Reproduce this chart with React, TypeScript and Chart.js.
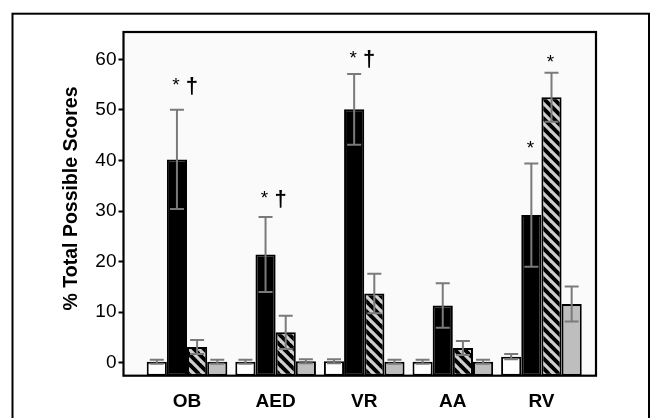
import { useEffect, useRef } from "react";
import { Chart, registerables } from "chart.js";

Chart.register(...registerables);

const categories = ["OB", "AED", "VR", "AA", "RV"];
const categoryPositions = [1, 2, 3, 4, 5];
const seriesNames = ["White", "Black", "Hatched", "Gray"];

const whiteValues = [0.2, 0.2, 0.3, 0.2, 1.2];
const whiteErrors = [0.4, 0.4, 0.4, 0.4, 0.5];
const blackValues = [40.2, 21.4, 50.1, 11.3, 29.2];
const blackErrors = [9.8, 7.4, 7.0, 4.4, 10.2];
const hatchValues = [3.1, 6.0, 13.7, 2.9, 52.5];
const hatchErrors = [1.4, 3.3, 3.9, 1.4, 4.85];
const grayValues = [0.2, 0.3, 0.2, 0.2, 11.6];
const grayErrors = [0.4, 0.4, 0.4, 0.4, 3.45];

const yTicks = [0, 10, 20, 30, 40, 50, 60];
const Y_MIN = -2.57;
const Y_MAX = 65.4;
const X_MIN = 0.283;
const X_MAX = 5.616;

// significance marks: category index, series index, baseline value, dagger shown
const markCats = [0, 1, 2, 4, 4];
const markSeries = [1, 1, 1, 1, 2];
const markValues = [53.7, 31.3, 59.1, 41.3, 58.2];
const markDagger = [true, true, true, false, false];

const FONT = "'Liberation Sans', Arial, Helvetica, sans-serif";

function makeHatch(): CanvasPattern | string {
  const size = 10;
  const c = document.createElement("canvas");
  c.width = size;
  c.height = size;
  const g = c.getContext("2d");
  if (!g) return "#000";
  g.fillStyle = "#000";
  g.fillRect(0, 0, size, size);
  g.strokeStyle = "#cfcfcf";
  g.lineWidth = 3.2;
  g.lineCap = "square";
  for (const dx of [-size, 0, size]) {
    g.beginPath();
    g.moveTo(dx, 0);
    g.lineTo(dx + size, size);
    g.stroke();
  }
  const p = g.createPattern(c, "repeat");
  return p || "#000";
}

export default function App() {
  const ref = useRef<HTMLCanvasElement | null>(null);

  useEffect(() => {
    if (!ref.current) return;
    const hatch = makeHatch();
    const values = [whiteValues, blackValues, hatchValues, grayValues];
    const errors = [whiteErrors, blackErrors, hatchErrors, grayErrors];
    const fills: (string | CanvasPattern)[] = ["#ffffff", "#000000", hatch, "#bebebe"];

    const framePlugin = {
      id: "frames",
      beforeDatasetsDraw(chart: any) {
        const { ctx, chartArea } = chart;
        ctx.save();
        ctx.fillStyle = "#fafafa";
        ctx.fillRect(chartArea.left, chartArea.top, chartArea.right - chartArea.left, chartArea.bottom - chartArea.top);
        ctx.restore();
      },
      afterDatasetsDraw(chart: any) {
        const { ctx, scales } = chart;
        const ys = scales.y;
        // error bars
        ctx.save();
        ctx.strokeStyle = "#7a7a7a";
        ctx.lineWidth = 2;
        values.forEach((vals, di) => {
          const meta = chart.getDatasetMeta(di);
          meta.data.forEach((el: any, j: number) => {
            const v = vals[j];
            const e = errors[di][j];
            const x = el.x;
            const yt = ys.getPixelForValue(v + e);
            const yb = ys.getPixelForValue(v - e);
            const cw = 7;
            ctx.beginPath();
            ctx.moveTo(x, yt);
            ctx.lineTo(x, yb);
            ctx.moveTo(x - cw, yt);
            ctx.lineTo(x + cw, yt);
            ctx.moveTo(x - cw, yb);
            ctx.lineTo(x + cw, yb);
            ctx.stroke();
          });
        });
        ctx.restore();
        // significance marks
        ctx.save();
        ctx.fillStyle = "#000";
        ctx.textBaseline = "alphabetic";
        ctx.textAlign = "center";
        markCats.forEach((c, k) => {
          const el = chart.getDatasetMeta(markSeries[k]).data[c];
          const x = el.x;
          const y = ys.getPixelForValue(markValues[k]);
          ctx.font = `19px ${FONT}`;
          ctx.fillText("*", x - 1, y);
          if (markDagger[k]) {
            ctx.font = `bold 22px ${FONT}`;
            ctx.fillText("\u2020", x + 15, y + 2);
          }
        });
        ctx.restore();
      },
      afterDraw(chart: any) {
        const { ctx, chartArea } = chart;
        ctx.save();
        ctx.strokeStyle = "#000";
        ctx.lineWidth = 2.2;
        ctx.strokeRect(chartArea.left, chartArea.top, chartArea.right - chartArea.left, chartArea.bottom - chartArea.top);
        ctx.lineWidth = 2;
        ctx.strokeRect(12.5, 13.7, 636.5, 430);
        ctx.restore();
      },
    };

    const chart = new Chart(ref.current, {
      type: "bar",
      data: {
        datasets: values.map((vals, di) => ({
          label: seriesNames[di],
          data: vals.map((v, j) => ({ x: categoryPositions[j], y: v })),
          backgroundColor: fills[di] as any,
          borderColor: "#000",
          borderWidth: 2,
          borderSkipped: false,
          base: Y_MIN,
          categoryPercentage: 0.91,
          barPercentage: 1.0,
        })),
      },
      options: {
        animation: false,
        responsive: true,
        maintainAspectRatio: false,
        layout: { padding: { left: 0, top: 32, right: 58, bottom: 0 } },
        plugins: {
          legend: { display: false },
          tooltip: { enabled: false },
          title: { display: false },
        },
        scales: {
          x: {
            type: "linear",
            min: X_MIN,
            max: X_MAX,
            offset: false,
            grid: { display: false },
            border: { display: false },
            afterBuildTicks: (axis: any) => {
              axis.ticks = categoryPositions.map((v) => ({ value: v }));
            },
            afterFit: (scale: any) => {
              scale.height = 418 - 375.7;
            },
            ticks: {
              autoSkip: false,
              maxRotation: 0,
              padding: 7,
              color: "#000",
              font: { family: FONT, size: 19, weight: "bold" },
              callback: (v: any) => {
                const i = categoryPositions.indexOf(Number(v));
                return i >= 0 ? categories[i] : "";
              },
            },
          },
          y: {
            type: "linear",
            min: Y_MIN,
            max: Y_MAX,
            border: { display: false },
            grid: {
              drawOnChartArea: false,
              drawTicks: true,
              tickLength: 5,
              tickColor: "#000",
              tickWidth: 2,
              color: "#000",
            },
            afterBuildTicks: (axis: any) => {
              axis.ticks = yTicks.map((v) => ({ value: v }));
            },
            afterFit: (scale: any) => {
              scale.width = 123.5;
            },
            ticks: {
              padding: 2,
              color: "#000",
              font: { family: FONT, size: 19 },
              callback: (v: any) => String(v),
            },
            title: {
              display: true,
              text: "  % Total Possible Scores",
              color: "#000",
              padding: { top: 59.6, bottom: 0 },
              font: { family: FONT, size: 19.5, weight: "bold" },
            },
          },
        },
      },
      plugins: [framePlugin],
    });

    return () => chart.destroy();
  }, []);

  return (
    <div style={{ position: "fixed", left: 0, top: 0, width: 654, height: 418, background: "#fff" }}>
      <canvas ref={ref} />
    </div>
  );
}
